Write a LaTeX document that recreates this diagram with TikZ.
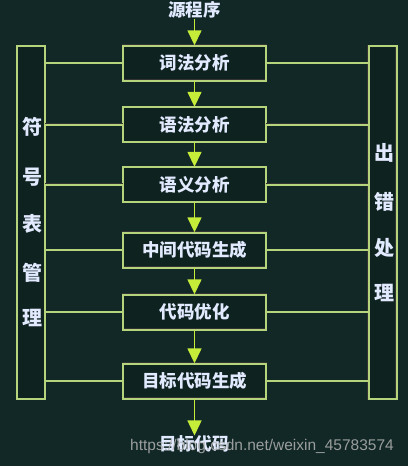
\documentclass[tikz,border=0pt]{standalone}
\usepackage{fontspec}
\setmainfont{Noto Sans CJK SC}
\newfontfamily\urlfont{Liberation Sans}
\usetikzlibrary{arrows.meta}

\definecolor{bg}{HTML}{112826}
\definecolor{rim}{HTML}{B6D47C}
\definecolor{tipc}{HTML}{C6EC3A}
\definecolor{ink}{HTML}{E2EAFF}

\tikzset{
    frame/.style={draw=black!80, double=rim, double distance=2pt, line width=0.4pt},
    stage/.style={frame, fill=bg!85!black, minimum width=143pt, minimum height=35pt,
        inner sep=0pt, text=ink, font=\bfseries\fontsize{17.5}{17.5}\selectfont},
    side/.style={frame, fill=bg!85!black, minimum width=28pt, minimum height=353pt},
    tag/.style={text=ink, inner sep=1pt, font=\bfseries\fontsize{20}{20}\selectfont},
    flow/.style={draw=tipc, fill=tipc, line width=1.5pt, -{Triangle[width=14pt,length=15pt]}},
}

\begin{document}
\begin{tikzpicture}[x=1pt, y=-1pt]
    \fill [bg] (0,0) rectangle (408,466);
    \useasboundingbox (0,0) rectangle (408,466);
    \node [side] (sym) at (31,222.5) {};
    \node [side] (err) at (382.5,222.5) {};
    \foreach \t/\y [count=\n] in {词法分析/63, 语法分析/124.5, 语义分析/184.5,
            中间代码生成/250, 代码优化/312, 目标代码生成/381} {
        \node [stage] (s\n) at (194.5,\y) {\t};
        \draw [frame] (s\n.west) -- (s\n.west -| sym.east);
        \draw [frame] (s\n.east) -- (s\n.east -| err.west);
    }
    \foreach \c/\y [count=\i] in {符/127, 号/177, 表/224, 管/273, 理/318}
        \node [tag] (sym\i) at (33,\y) {\c};
    \foreach \c/\y [count=\i] in {出/153, 错/202, 处/248, 理/293}
        \node [tag] (err\i) at (384,\y) {\c};
    \node [tag, font=\bfseries\fontsize{17.5}{17.5}\selectfont] (src) at (194.5,9.5) {源程序};
    \node [tag, font=\bfseries\fontsize{17.5}{17.5}\selectfont, inner sep=0pt] (dst) at (194.5,444) {目标代码};
    \draw [flow] (src) -- (s1);
    \foreach \a/\b in {1/2, 2/3, 3/4, 4/5, 5/6}
        \draw [flow] (s\a) -- (s\b);
    \draw [flow] (s6) -- (dst);
    \node [text=gray!60, opacity=0.85, font=\urlfont\fontsize{15.5}{15.5}\selectfont]
        (url) at (262,446) {https://blog.csdn.net/weixin\_45783574};
\end{tikzpicture}
\end{document}
